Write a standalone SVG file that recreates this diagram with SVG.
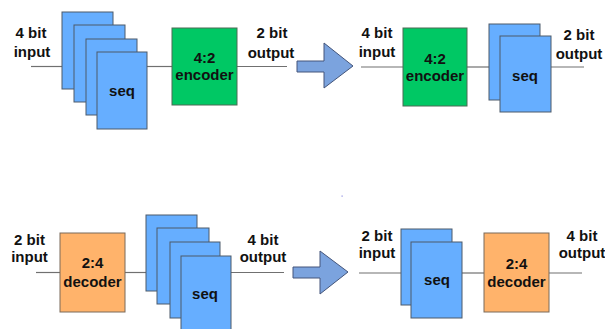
<svg xmlns="http://www.w3.org/2000/svg" width="605" height="329" viewBox="0 0 605 329">
  <style>
    .wire { stroke: #707070; stroke-width: 1.2; fill: none; }
    .seq { fill: #66AEFF; stroke: #4d5a6a; stroke-width: 1; }
    .enc { fill: #00C864; stroke: #4d6a55; stroke-width: 1; }
    .dec { fill: #FFB36B; stroke: #7a6a5a; stroke-width: 1; }
    .big { fill: #7BA3DE; stroke: #44557a; stroke-width: 1; }
    text { font-family: "Liberation Sans", Arial, sans-serif; font-weight: bold; font-size: 15px; fill: #111; text-anchor: middle; }
  </style>
  <rect width="605" height="329" fill="#ffffff"/>

  <!-- connectors -->
  <g id="connectors">
    <line class="wire" x1="31" y1="66.5" x2="62" y2="66.5"/>
    <line class="wire" x1="147" y1="66.5" x2="172" y2="66.5"/>
    <line class="wire" x1="237" y1="66.5" x2="287" y2="66.5"/>

    <line class="wire" x1="361" y1="67" x2="403" y2="67"/>
    <line class="wire" x1="467" y1="67" x2="489" y2="67"/>
    <line class="wire" x1="551" y1="67" x2="584" y2="67"/>

    <line class="wire" x1="36" y1="272.5" x2="60" y2="272.5"/>
    <line class="wire" x1="125" y1="272.5" x2="146" y2="272.5"/>
    <line class="wire" x1="231" y1="272.5" x2="284" y2="272.5"/>

    <line class="wire" x1="359" y1="273" x2="401" y2="273"/>
    <line class="wire" x1="462" y1="273" x2="484" y2="273"/>
    <line class="wire" x1="549" y1="273" x2="582" y2="273"/>
  </g>

  <!-- top left: 4 bit input -> seq x4 -> encoder -> 2 bit output -->
  <g id="tl-labels">
    <text x="31" y="38">4 bit</text>
    <text x="32" y="57">input</text>
    <text x="272" y="38">2 bit</text>
    <text x="271" y="58">output</text>
  </g>
  <g id="tl-seq">
    <rect class="seq" x="62" y="12" width="51" height="77"/>
    <rect class="seq" x="74" y="25" width="51" height="77"/>
    <rect class="seq" x="86" y="39" width="51" height="76"/>
    <rect class="seq" x="97" y="52" width="50" height="77"/>
    <text x="122" y="96">seq</text>
  </g>
  <g id="tl-encoder">
    <rect class="enc" x="172" y="28" width="65" height="77"/>
    <text x="204.5" y="63">4:2</text>
    <text x="204.5" y="80">encoder</text>
  </g>

  <!-- top transformation arrow -->
  <g id="top-arrow">
    <polygon class="big" points="297,61 324,61 324,43 353,66 324,88 324,72 297,72"/>
  </g>

  <!-- top right: 4 bit input -> encoder -> seq x2 -> 2 bit output -->
  <g id="tr-labels">
    <text x="377" y="38">4 bit</text>
    <text x="377" y="57">input</text>
    <text x="579" y="40">2 bit</text>
    <text x="579" y="59">output</text>
  </g>
  <g id="tr-encoder">
    <rect class="enc" x="403" y="28" width="64" height="78"/>
    <text x="435" y="64">4:2</text>
    <text x="435" y="81">encoder</text>
  </g>
  <g id="tr-seq">
    <rect class="seq" x="489" y="24" width="51" height="76"/>
    <rect class="seq" x="500" y="36" width="51" height="76"/>
    <text x="525" y="81">seq</text>
  </g>

  <!-- bottom left: 2 bit input -> decoder -> seq x4 -> 4 bit output -->
  <g id="bl-labels">
    <text x="29.5" y="245">2 bit</text>
    <text x="29.5" y="262">input</text>
    <text x="263" y="245">4 bit</text>
    <text x="263" y="262">output</text>
  </g>
  <g id="bl-decoder">
    <rect class="dec" x="60" y="233" width="65" height="79"/>
    <text x="92.5" y="268">2:4</text>
    <text x="92.5" y="287">decoder</text>
  </g>
  <g id="bl-seq">
    <rect class="seq" x="146" y="215" width="51" height="76"/>
    <rect class="seq" x="157" y="228" width="52" height="76"/>
    <rect class="seq" x="170" y="242" width="50" height="76"/>
    <rect class="seq" x="181" y="256" width="50" height="76"/>
    <text x="205" y="299">seq</text>
  </g>

  <!-- bottom transformation arrow -->
  <g id="bottom-arrow">
    <polygon class="big" points="293,267 320,267 320,251 348,272 320,294 320,278 293,278"/>
  </g>

  <!-- bottom right: 2 bit input -> seq x2 -> decoder -> 4 bit output -->
  <g id="br-labels">
    <text x="377" y="241">2 bit</text>
    <text x="377" y="258">input</text>
    <text x="582" y="241">4 bit</text>
    <text x="582" y="258">output</text>
  </g>
  <g id="br-seq">
    <rect class="seq" x="401" y="229" width="51" height="76"/>
    <rect class="seq" x="411" y="242" width="51" height="76"/>
    <text x="437" y="285">seq</text>
  </g>
  <g id="br-decoder">
    <rect class="dec" x="484" y="233" width="65" height="79"/>
    <text x="516.5" y="269">2:4</text>
    <text x="516.5" y="287">decoder</text>
  </g>

  <!-- stray speck -->
  <rect x="341.5" y="195.5" width="1.2" height="1.2" fill="#8a8ae0"/>
</svg>
